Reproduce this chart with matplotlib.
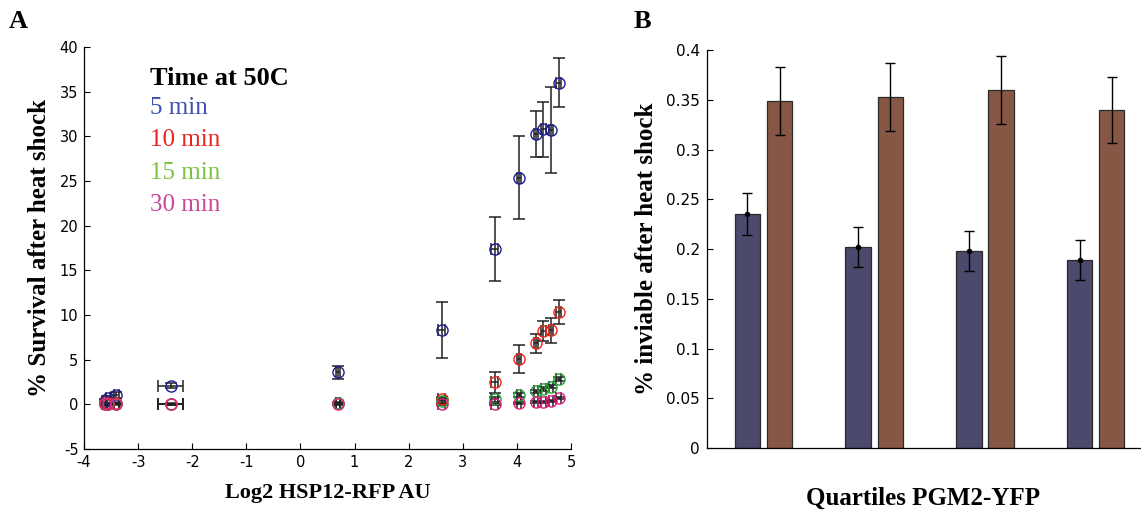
import matplotlib
matplotlib.use("Agg")
import matplotlib.pyplot as plt
import numpy as np

plt.rcParams["axes.unicode_minus"] = False

# ---------------- Panel A data ----------------
hsp12_x = [-3.62, -3.56, -3.40, -2.40, 0.70, 2.61, 3.59, 4.04, 4.35, 4.49, 4.63, 4.77]
hsp12_xerr = [0.04, 0.04, 0.05, 0.23, 0.04, 0.06, 0.06, 0.04, 0.04, 0.04, 0.04, 0.04]

surv_5 = [0.4, 0.7, 1.05, 2.1, 3.6, 8.3, 17.4, 25.4, 30.25, 30.8, 30.7, 36.0]
surv_5_err = [0.2, 0.2, 0.3, 0.3, 0.75, 3.15, 3.6, 4.7, 2.55, 3.05, 4.8, 2.75]
surv_10 = [0.1, 0.1, 0.1, 0.05, 0.15, 0.65, 2.45, 5.05, 6.85, 8.2, 8.3, 10.35]
surv_10_err = [0.1, 0.1, 0.1, 0.1, 0.1, 0.2, 1.15, 1.55, 1.05, 1.1, 1.4, 1.35]
surv_15 = [0.05, 0.05, 0.05, 0.0, 0.1, 0.4, 0.55, 1.05, 1.45, 1.75, 2.0, 2.85]
surv_15_err = [0.05, 0.05, 0.05, 0.05, 0.05, 0.2, 0.3, 0.25, 0.2, 0.2, 0.2, 0.2]
surv_30 = [0.0, 0.0, 0.0, 0.0, 0.0, 0.0, 0.0, 0.15, 0.3, 0.3, 0.4, 0.7]
surv_30_err = [0.05, 0.05, 0.05, 0.05, 0.05, 0.05, 0.05, 0.1, 0.1, 0.1, 0.1, 0.1]

series_labels = ["5 min", "10 min", "15 min", "30 min"]
marker_colors = ["#1c1c96", "#f02418", "#27a03a", "#e0207f"]
text_colors = ["#3f4fae", "#e8231e", "#7cc242", "#c8479a"]

a_xticks = [-4, -3, -2, -1, 0, 1, 2, 3, 4, 5]
a_yticks = [-5, 0, 5, 10, 15, 20, 25, 30, 35, 40]

# ---------------- Panel B data ----------------
quartiles = [1, 2, 3, 4]
inviable_blue = [0.235, 0.202, 0.198, 0.189]
inviable_blue_err = [0.021, 0.020, 0.020, 0.020]
inviable_brown = [0.349, 0.353, 0.360, 0.340]
inviable_brown_err = [0.034, 0.034, 0.034, 0.033]
b_yticks = [0, 0.05, 0.1, 0.15, 0.2, 0.25, 0.3, 0.35, 0.4]
b_yticklabels = ["0", "0.05", "0.1", "0.15", "0.2", "0.25", "0.3", "0.35", "0.4"]

serif = ["Liberation Serif", "DejaVu Serif"]
sans = ["DejaVu Sans"]

fig = plt.figure(figsize=(11.41, 5.12), dpi=100)
fig.patch.set_facecolor("white")

# ---------------- Panel A ----------------
axA = fig.add_axes([0.0736, 0.123, 0.4268, 0.785])
ys = [surv_5, surv_10, surv_15, surv_30]
errs = [surv_5_err, surv_10_err, surv_15_err, surv_30_err]
for y, e in zip(ys, errs):
    axA.errorbar(hsp12_x, y, yerr=e, xerr=hsp12_xerr, fmt="none",
                 ecolor="#222222", elinewidth=1.1, capsize=4, capthick=1.1, zorder=2)
for y, c in zip(ys, marker_colors):
    axA.plot(hsp12_x, y, linestyle="none", marker="o", markersize=8,
             markerfacecolor="none", markeredgecolor=c, markeredgewidth=1.0, zorder=3)

axA.set_xlim(-4, 5)
axA.set_ylim(-5, 40)
axA.set_xticks(a_xticks)
axA.set_yticks(a_yticks)
axA.tick_params(direction="in", length=4, width=0.8, labelsize=10.5, pad=4)
for lab in axA.get_xticklabels() + axA.get_yticklabels():
    lab.set_family(sans)
for s in ["top", "right"]:
    axA.spines[s].set_visible(False)
for s in ["left", "bottom"]:
    axA.spines[s].set_linewidth(0.9)
axA.set_xlabel("Log2 HSP12-RFP AU", family=serif, fontweight="bold", fontsize=16, labelpad=10)
axA.set_ylabel("% Survival after heat shock", family=serif, fontweight="bold", fontsize=18, labelpad=6)

axA.text(0.135, 0.923, "Time at 50C", transform=axA.transAxes, family=serif,
         fontweight="bold", fontsize=19, color="black", va="center")
for i, (lab, c) in enumerate(zip(series_labels, text_colors)):
    axA.text(0.135, 0.848 - i * 0.08, lab, transform=axA.transAxes, family=serif,
             fontsize=18, color=c, va="center")

fig.text(0.008, 0.958, "A", family=serif, fontweight="bold", fontsize=19, va="center")

# ---------------- Panel B ----------------
axB = fig.add_axes([0.6196, 0.125, 0.3795, 0.777])
bw = 0.23
off = 0.145
xq = np.array(quartiles, dtype=float)
axB.bar(xq - off, inviable_blue, width=bw, color="#4b4a6d", edgecolor="#2a2a2a", linewidth=0.9, zorder=2)
axB.bar(xq + off, inviable_brown, width=bw, color="#875746", edgecolor="#2a2a2a", linewidth=0.9, zorder=2)
axB.errorbar(xq - off, inviable_blue, yerr=inviable_blue_err, fmt="o", color="black",
             markersize=3, elinewidth=1.0, capsize=3.5, capthick=1.0, zorder=3)
axB.errorbar(xq + off, inviable_brown, yerr=inviable_brown_err, fmt="none", ecolor="black",
             elinewidth=1.0, capsize=3.5, capthick=1.0, zorder=3)
axB.set_xlim(0.49, 4.4)
axB.set_ylim(0, 0.4)
axB.set_yticks(b_yticks)
axB.set_yticklabels(b_yticklabels)
axB.set_xticks([])
axB.tick_params(direction="in", length=4, width=0.8, labelsize=11, pad=5)
for lab in axB.get_yticklabels():
    lab.set_family(sans)
for s in ["top", "right"]:
    axB.spines[s].set_visible(False)
for s in ["left", "bottom"]:
    axB.spines[s].set_linewidth(0.9)
axB.set_xlabel("Quartiles PGM2-YFP", family=serif, fontweight="bold", fontsize=18, labelpad=28)
axB.set_ylabel("% inviable after heat shock", family=serif, fontweight="bold", fontsize=18, labelpad=6)

fig.text(0.555, 0.958, "B", family=serif, fontweight="bold", fontsize=19, va="center")

fig.savefig("out.png", dpi=100, facecolor="white")
